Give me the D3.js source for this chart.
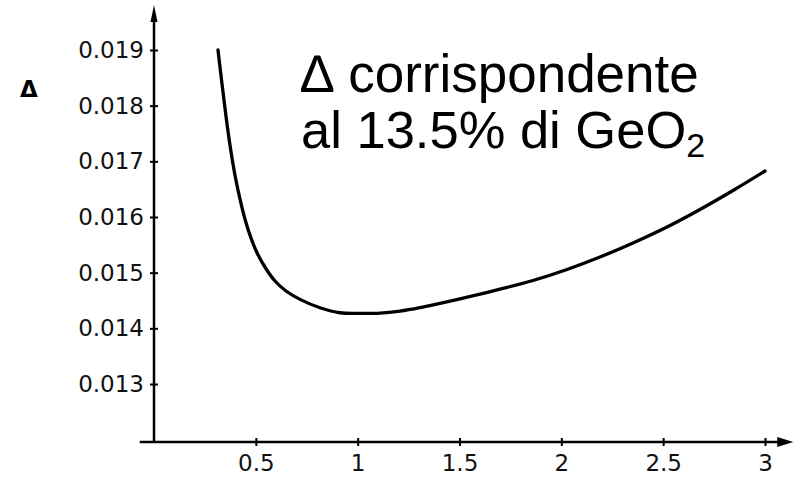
<!DOCTYPE html>
<html>
<head>
<meta charset="utf-8">
<script src="https://cdn.jsdelivr.net/npm/d3@7"></script>
<style>
  html, body { margin: 0; padding: 0; background: #fff; }
  svg { display: block; }
</style>
</head>
<body>
<svg id="chart" width="799" height="479"></svg>
<script>
// Normalized frequency (x) and index difference Δ (y)
const xValues = [0.3142, 0.3339, 0.3535, 0.3732, 0.3977, 0.4223, 0.4468, 0.4763, 0.5106, 0.5499,
                 0.5941, 0.6481, 0.7169, 0.8151, 0.9133, 1.0115, 1.1097, 1.2079, 1.3061, 1.4043,
                 1.5025, 1.6007, 1.6989, 1.8609, 2.0278, 2.1898, 2.3519, 2.5188, 2.6808, 2.8429,
                 3.0000];
const deltaValues = [0.01900, 0.01839, 0.01781, 0.01729, 0.01675, 0.01632, 0.01596, 0.01562, 0.01532, 0.01507,
                     0.01485, 0.01467, 0.01452, 0.01437, 0.01428, 0.01427, 0.014275, 0.014311, 0.014373, 0.014450,
                     0.014529, 0.014613, 0.014703, 0.014859, 0.015057, 0.015281, 0.015533, 0.015820, 0.016135, 0.016476,
                     0.016826];
const xTicks = [0.5, 1, 1.5, 2, 2.5, 3];
const yTicks = [0.013, 0.014, 0.015, 0.016, 0.017, 0.018, 0.019];
const titleLines = ["\u2206 corrispondente", "al 13.5% di GeO"];
const titleSub = "2";
const yLabel = "\u0394";

const svg = d3.select("#chart");

const x = d3.scaleLinear().domain([0, 3]).range([154, 765]);
const y = d3.scaleLinear().domain([0.013, 0.019]).range([384, 50]);
const axisY = 442;         // pixel row of the horizontal axis
const axisX = x(0);        // pixel column of the vertical axis

const tickFont = "'DejaVu Sans', sans-serif";

// Horizontal axis line with arrow
const xEnd = x(3.07);
svg.append("line")
  .attr("x1", x(-0.07)).attr("x2", xEnd)
  .attr("y1", axisY).attr("y2", axisY)
  .attr("stroke", "#000").attr("stroke-width", 2.5);
svg.append("path")
  .attr("d", `M${xEnd + 14},${axisY} L${xEnd - 2},${axisY - 5} L${xEnd - 2},${axisY + 5} Z`)
  .attr("fill", "#000");

// Vertical axis line with arrow
const yEnd = y(0.01954);
svg.append("line")
  .attr("x1", axisX).attr("x2", axisX)
  .attr("y1", axisY).attr("y2", yEnd)
  .attr("stroke", "#000").attr("stroke-width", 2.5);
svg.append("path")
  .attr("d", `M${axisX},${yEnd - 15} L${axisX - 3.5},${yEnd + 2} L${axisX + 3.5},${yEnd + 2} Z`)
  .attr("fill", "#000");

// Bottom axis ticks and labels
const gx = svg.append("g")
  .attr("transform", `translate(0,${axisY})`)
  .call(d3.axisBottom(x).tickValues(xTicks).tickSize(4).tickPadding(9)
        .tickFormat(d3.format("")));
gx.select(".domain").remove();
gx.selectAll(".tick line").attr("y1", -4).attr("y2", 4)
  .attr("stroke", "#000").attr("stroke-width", 2);
gx.selectAll(".tick text")
  .attr("font-family", tickFont).attr("font-size", 23).attr("fill", "#111");

// Left axis ticks and labels
const gy = svg.append("g")
  .attr("transform", `translate(${axisX},0)`)
  .call(d3.axisLeft(y).tickValues(yTicks).tickSize(4).tickPadding(6)
        .tickFormat(d3.format(".3f")));
gy.select(".domain").remove();
gy.selectAll(".tick line").attr("x1", -4).attr("x2", 4)
  .attr("stroke", "#000").attr("stroke-width", 2);
gy.selectAll(".tick text")
  .attr("font-family", tickFont).attr("font-size", 23).attr("fill", "#111");

// Axis title Δ
svg.append("text")
  .attr("x", 29).attr("y", 97)
  .attr("text-anchor", "middle")
  .attr("font-family", tickFont).attr("font-weight", "bold").attr("font-size", 23)
  .text(yLabel);

// Curve
const pts = xValues.map((v, i) => [v, deltaValues[i]]);
svg.append("path")
  .datum(pts)
  .attr("fill", "none").attr("stroke", "#000").attr("stroke-width", 3.3)
  .attr("stroke-linejoin", "round").attr("stroke-linecap", "round")
  .attr("d", d3.line().x(d => x(d[0])).y(d => y(d[1])).curve(d3.curveCatmullRom.alpha(0.5)));

// Annotation
const titleFont = "'Liberation Sans', Arial, sans-serif";
svg.append("text")
  .attr("x", 301).attr("y", 92)
  .attr("font-family", titleFont).attr("font-size", 53).attr("fill", "#000")
  .text(titleLines[0]);
const t2 = svg.append("text")
  .attr("x", 301).attr("y", 148)
  .attr("font-family", titleFont).attr("font-size", 52.5).attr("fill", "#000");
t2.append("tspan").text(titleLines[1]);
t2.append("tspan").attr("dy", 9).attr("font-size", 34).text(titleSub);
</script>
</body>
</html>
